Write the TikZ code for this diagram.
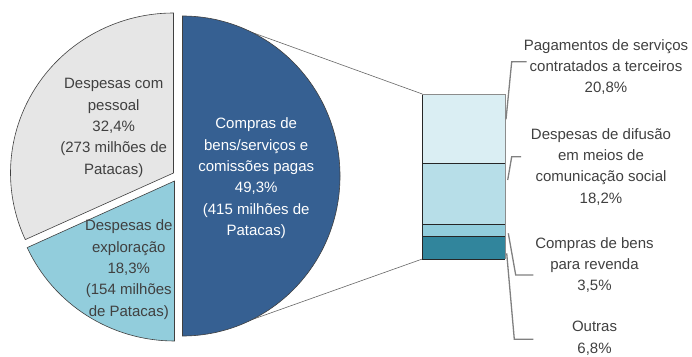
\documentclass[tikz,border=0pt]{standalone}
\usepackage{fontspec}
\setmainfont{Liberation Sans}
\definecolor{tgrey}{HTML}{404040}
\definecolor{pgrey}{HTML}{E6E6E6}
\definecolor{plblue}{HTML}{92CDDC}
\definecolor{pblue}{HTML}{366092}
\definecolor{bar1}{HTML}{DAEEF3}
\definecolor{bar2}{HTML}{B7DEE8}
\definecolor{bar3}{HTML}{92CDDC}
\definecolor{bar4}{HTML}{31859C}
\definecolor{leadc}{HTML}{808080}
\begin{document}
\begin{tikzpicture}[x=1pt,y=1pt,
  lbl/.style={align=center, inner sep=0pt, text=tgrey, font=\fontsize{15}{21.3}\selectfont},
  wlbl/.style={lbl, text=white},
  slice/.style={draw=black!75, line width=0.6pt},
  seg/.style={draw=black!85, line width=0.7pt},
  edgeg/.style={draw=black!45, line width=0.9pt},
  series/.style={draw=black!60, line width=0.6pt},
  leader/.style={draw=leadc, line width=1.3pt}]
\useasboundingbox (0,0) rectangle (692,356);

% named points
\coordinate (tt) at (250,324.3);
\coordinate (tb) at (250,35.7);
\coordinate (btl) at (422.3,262);
\coordinate (bbl) at (422.3,97);

% series lines (behind the pie)
\draw[series] (tt) -- (btl);
\draw[series] (tb) -- (bbl);

% pie slices
\fill[pgrey] (173.5,183) -- ++(0,160) arc[start angle=90,end angle=204.6,x radius=163,y radius=160] -- cycle;
\draw[slice] (173.5,183) -- ++(0,160) arc[start angle=90,end angle=204.6,x radius=163,y radius=160] -- cycle;
\fill[plblue] (174.5,175) -- ++(204.6:{162 and 160}) arc[start angle=204.6,end angle=270,x radius=162,y radius=160] -- cycle;
\draw[slice] (174.5,175) -- ++(204.6:{162 and 160}) arc[start angle=204.6,end angle=270,x radius=162,y radius=160] -- cycle;
\fill[pblue] (182.5,180) -- ++(0,-160) arc[start angle=-90,end angle=90,x radius=157.5,y radius=160] -- cycle;
\draw[slice] (182.5,180) -- ++(0,-160) arc[start angle=-90,end angle=90,x radius=157.5,y radius=160] -- cycle;

% bar
\fill[bar1] (422.3,192.7) rectangle (505,262);
\fill[bar2] (422.3,131.7) rectangle (505,192.7);
\fill[bar3] (422.3,120) rectangle (505,131.7);
\fill[bar4] (422.3,97) rectangle (505,120);
\draw[seg] (422.3,192.7) -- (505,192.7);
\draw[seg] (422.3,131.7) -- (505,131.7);
\draw[seg] (422.3,120) -- (505,120);
\draw[seg] (422.3,97) -- (505,97);
\draw[seg] (422.3,97) -- (422.3,262);
\draw[edgeg] (422.3,262) -- (505,262) -- (505,97);

% pie labels
\node[lbl] (lgrey) at (113.7,228.1) {Despesas com\\pessoal\\32,4\%\\(273 milhões de\\Patacas)};
\node[lbl] (llblue) at (128.8,86.3) {Despesas de\\exploração\\18,3\%\\(154 milhões\\de Patacas)};
\node[wlbl] (lblue) at (256.2,177.7) {Compras de\\bens/serviços e\\comissões pagas\\49,3\%\\(415 milhões de\\Patacas)};

% bar labels
\node[lbl] (l1) at (606,289) {Pagamentos de serviços\\contratados a terceiros\\20,8\%};
\node[lbl] (l2) at (601,189.3) {Despesas de difusão\\em meios de\\comunicação social\\18,2\%};
\node[lbl] (l3) at (594.5,91) {Compras de bens\\para revenda\\3,5\%};
\node[lbl] (l4) at (594.5,17.7) {Outras\\6,8\%};

% leader lines
\coordinate (a1) at (506,236.7);
\coordinate (k1) at (511.7,294.3);
\coordinate (e1) at (526.7,294.3);
\coordinate (a2) at (507.7,176);
\coordinate (k2) at (511.7,199.3);
\coordinate (e2) at (521,199.3);
\coordinate (a3) at (508.3,122.7);
\coordinate (k3) at (515.7,81);
\coordinate (e3) at (533.3,81);
\coordinate (a4) at (506.7,102.7);
\coordinate (k4) at (514.3,16.7);
\coordinate (e4) at (533.3,16.7);
\draw[leader] (a1) -- (k1) -- (e1);
\draw[leader] (a2) -- (k2) -- (e2);
\draw[leader] (a3) -- (k3) -- (e3);
\draw[leader] (a4) -- (k4) -- (e4);
\end{tikzpicture}
\end{document}
